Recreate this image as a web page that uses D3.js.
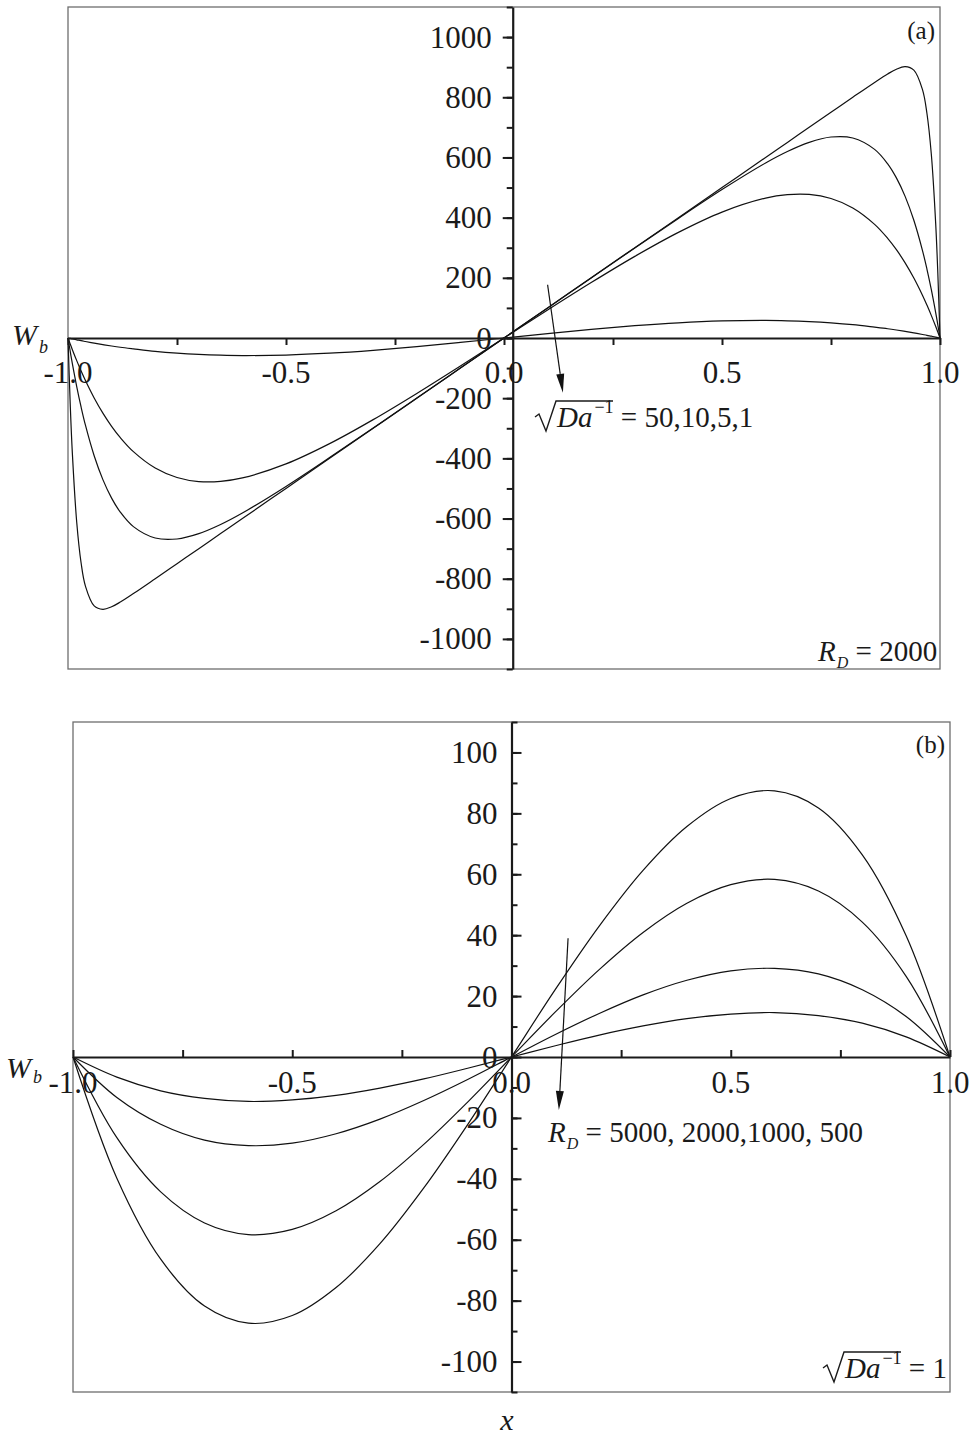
<!DOCTYPE html>
<html>
<head>
<meta charset="utf-8">
<script src="https://cdn.jsdelivr.net/npm/d3@7/dist/d3.min.js"></script>
<style>
  body { margin: 0; background: #fff; }
  svg { display: block; }
  text { font-family: "Liberation Serif", "Times New Roman", serif; fill: #1a1a1a; }
</style>
</head>
<body>
<svg id="chart" width="972" height="1435"></svg>
<script>
// ---------- data ----------
// Panel (a): W_b(x) for R_D = 2000, sqrt(Da^-1) = 50, 10, 5, 1
const xA = [-1, -0.995, -0.99, -0.98, -0.97, -0.96, -0.94, -0.92, -0.9, -0.88, -0.85, -0.8, -0.75, -0.7, -0.65, -0.6,
            -0.5, -0.4, -0.3, -0.2, -0.1, 0, 0.1, 0.2, 0.3, 0.4, 0.5,
            0.6, 0.65, 0.7, 0.75, 0.8, 0.85, 0.88, 0.9, 0.92, 0.94, 0.96, 0.97, 0.98, 0.99, 0.995, 1];
const wDa50 = [0, -216.2, -383.5, -612.1, -746.9, -824.7, -890.2, -901.7, -893.3, -877.5, -849.4, -800, -750, -700, -650, -600,
               -500, -400, -300, -200, -100, 0, 100, 200, 300, 400, 500,
               600, 650, 700, 750, 800, 849.4, 877.5, 893.3, 901.7, 890.2, 824.7, 746.9, 612.1, 383.5, 216.2, 0];
const wDa10 = [0, -43.8, -85.2, -161.3, -229.2, -289.7, -391.2, -470.7, -532.1, -578.8, -626.9, -664.7, -667.9, -650.2, -619.8, -581.7,
               -493.3, -397.5, -299.1, -199.7, -99.9, 0, 99.9, 199.7, 299.1, 397.5, 493.3,
               581.7, 619.8, 650.2, 667.9, 664.7, 626.9, 578.8, 532.1, 470.7, 391.2, 289.7, 229.2, 161.3, 85.2, 43.8, 0];
const wDa5 = [0, -19.7, -38.8, -75.2, -109.3, -141.3, -199.2, -249.7, -293.5, -331.2, -377.7, -432.2, -463.6, -477.1, -476.5, -465.0,
              -418.5, -351.1, -271.3, -184.2, -93.0, 0, 93.0, 184.2, 271.3, 351.1, 418.5,
              465.0, 476.5, 477.1, 463.6, 432.2, 377.7, 331.2, 293.5, 249.7, 199.2, 141.3, 109.3, 75.2, 38.8, 19.7, 0];
const wDa1 = [0, -1.5, -3.1, -6.0, -9.0, -11.7, -17.0, -21.9, -26.5, -30.7, -36.0, -44.3, -50.3, -54.5, -57.1, -58.3,
              -56.6, -50.5, -40.9, -28.7, -14.8, 0, 14.8, 28.7, 40.9, 50.5, 56.6,
              58.3, 57.1, 54.5, 50.3, 44.3, 36.0, 30.7, 26.5, 21.9, 17.0, 11.7, 9.0, 6.0, 3.1, 1.5, 0];

// Panel (b): W_b(x) for sqrt(Da^-1) = 1, R_D = 5000, 2000, 1000, 500
const xB = [-1, -0.9, -0.8, -0.7, -0.6, -0.5, -0.4, -0.3, -0.2, -0.1, 0, 0.1, 0.2, 0.3, 0.4, 0.5, 0.6, 0.7, 0.8, 0.9, 1];
const wRD5000 = [0, -39.8, -66.4, -81.8, -87.4, -84.9, -75.7, -61.3, -43.0, -22.2, 0, 22.2, 43.0, 61.3, 75.7, 84.9, 87.4, 81.8, 66.4, 39.8, 0];
const wRD2000 = [0, -26.5, -44.3, -54.5, -58.3, -56.6, -50.5, -40.9, -28.7, -14.8, 0, 14.8, 28.7, 40.9, 50.5, 56.6, 58.3, 54.5, 44.3, 26.5, 0];
const wRD1000 = [0, -13.3, -22.1, -27.3, -29.1, -28.3, -25.2, -20.4, -14.3, -7.4, 0, 7.4, 14.3, 20.4, 25.2, 28.3, 29.1, 27.3, 22.1, 13.3, 0];
const wRD500 = [0, -6.6, -11.1, -13.6, -14.6, -14.1, -12.6, -10.2, -7.2, -3.7, 0, 3.7, 7.2, 10.2, 12.6, 14.1, 14.6, 13.6, 11.1, 6.6, 0];

// tick values and labels
const xTickValues = [-1, -0.5, 0, 0.5, 1];
const xTickLabels = ["-1.0", "-0.5", "0.0", "0.5", "1.0"];
const xMinorTicks = [-1, -0.75, -0.5, -0.25, 0, 0.25, 0.5, 0.75, 1];
const yTicksA = [-1000, -800, -600, -400, -200, 0, 200, 400, 600, 800, 1000];
const yTickLabelsA = ["-1000", "-800", "-600", "-400", "-200", "0", "200", "400", "600", "800", "1000"];
const yMinorA = d3.range(-1100, 1101, 100);
const yTicksB = [-100, -80, -60, -40, -20, 0, 20, 40, 60, 80, 100];
const yTickLabelsB = ["-100", "-80", "-60", "-40", "-20", "0", "20", "40", "60", "80", "100"];
const yMinorB = d3.range(-110, 111, 10);

// ---------- drawing ----------
const svg = d3.select("#chart");
const INK = "#1a1a1a";

function drawPanel(cfg) {
  const g = svg.append("g");
  const x = d3.scaleLinear().domain([-1, 1]).range([cfg.left, cfg.right]);
  const y = d3.scaleLinear().domain([-cfg.ymax, cfg.ymax]).range([cfg.bottom, cfg.top]);

  // frame
  g.append("rect")
    .attr("x", cfg.left).attr("y", cfg.top)
    .attr("width", cfg.right - cfg.left).attr("height", cfg.bottom - cfg.top)
    .attr("fill", "none").attr("stroke", "#6e6e6e").attr("stroke-width", 1.3);

  // curves
  const line = d3.line()
    .x((d, i) => x(cfg.xs[i]))
    .y(d => y(d))
    .curve(d3.curveCatmullRom.alpha(0.5));
  cfg.series.forEach(s => {
    g.append("path").attr("d", line(s))
      .attr("fill", "none").attr("stroke", "#111").attr("stroke-width", 1.2);
  });

  // horizontal axis through W_b = 0
  const xAxis = (cfg.xTicksDown ? d3.axisBottom(x) : d3.axisTop(x))
    .tickValues(xMinorTicks).tickFormat("").tickSize(7).tickSizeOuter(0);
  const gx = g.append("g").attr("transform", `translate(0,${y(0)})`).call(xAxis);
  gx.select(".domain").attr("stroke", INK).attr("stroke-width", 2.2);
  gx.selectAll(".tick line").attr("stroke", INK).attr("stroke-width", 2);

  xTickValues.forEach((v, i) => {
    g.append("text").attr("x", x(v)).attr("y", y(0) + cfg.xLabelDy)
      .attr("text-anchor", "middle").style("font-size", "31px").text(xTickLabels[i]);
  });

  // vertical axis
  const axPos = x(cfg.yAxisAt);
  const mkAxis = cfg.yTicksLeft ? d3.axisLeft : d3.axisRight;
  const gyMinor = g.append("g").attr("transform", `translate(${axPos},0)`)
    .call(mkAxis(y).tickValues(cfg.yMinor).tickFormat("").tickSize(6).tickSizeOuter(0));
  gyMinor.select(".domain").attr("stroke", INK).attr("stroke-width", 2.2);
  gyMinor.selectAll(".tick line").attr("stroke", INK).attr("stroke-width", 2);
  const gyMajor = g.append("g").attr("transform", `translate(${axPos},0)`)
    .call(mkAxis(y).tickValues(cfg.yTicks).tickFormat("").tickSize(10).tickSizeOuter(0));
  gyMajor.select(".domain").remove();
  gyMajor.selectAll(".tick line").attr("stroke", INK).attr("stroke-width", 2);

  cfg.yTicks.forEach((v, i) => {
    g.append("text").attr("x", axPos - cfg.yLabelGap).attr("y", y(v) + 10.5)
      .attr("text-anchor", "end").style("font-size", "31px").text(cfg.yLabels[i]);
  });

  // W_b axis title
  g.append("text").attr("x", cfg.wX).attr("y", cfg.wY)
    .style("font-size", "30px").style("font-style", "italic").text("W");
  g.append("text").attr("x", cfg.wX + 27).attr("y", cfg.wY + cfg.bDy)
    .style("font-size", "18px").style("font-style", "italic").text("b");

  // panel tag
  g.append("text").attr("x", cfg.right - 5).attr("y", cfg.tagY)
    .attr("text-anchor", "end").style("font-size", "25px").text(cfg.tag);

  // arrow across the family of curves
  const [ax0, ay0] = [x(cfg.arrow[0][0]), y(cfg.arrow[0][1])];
  const [ax1, ay1] = [x(cfg.arrow[1][0]), y(cfg.arrow[1][1])];
  const ang = Math.atan2(ay1 - ay0, ax1 - ax0);
  const hl = 19, hw = 4;
  const bx = ax1 - hl * Math.cos(ang), by = ay1 - hl * Math.sin(ang);
  g.append("line").attr("x1", ax0).attr("y1", ay0).attr("x2", bx).attr("y2", by)
    .attr("stroke", "#111").attr("stroke-width", 1.2);
  g.append("path")
    .attr("d", `M${ax1},${ay1}L${bx + hw * Math.sin(ang)},${by - hw * Math.cos(ang)}L${bx - hw * Math.sin(ang)},${by + hw * Math.cos(ang)}Z`)
    .attr("fill", "#111");

  return g;
}

// sqrt(Da^-1) = value
function sqrtLabel(g, x0, b, value) {
  const pts = [[0, -10], [4, -13], [11, 4], [21, -26], [78, -26]];
  g.append("path").attr("d", d3.line()(pts.map(p => [x0 + p[0], b + p[1]])))
    .attr("fill", "none").attr("stroke", INK).attr("stroke-width", 1.4);
  const t = g.append("text").attr("x", x0 + 22).attr("y", b).style("font-size", "29px");
  t.append("tspan").style("font-style", "italic").text("Da");
  t.append("tspan").attr("dx", 2).attr("dy", -14).style("font-size", "18px").text("\u22121");
  t.append("tspan").attr("dy", 14).text(" = " + value);
}

// R_D = value
function rdLabel(g, x0, b, value) {
  const t = g.append("text").attr("x", x0).attr("y", b).style("font-size", "29px");
  t.append("tspan").style("font-style", "italic").text("R");
  t.append("tspan").attr("dx", 1).attr("dy", 7).style("font-size", "16px").style("font-style", "italic").text("D");
  t.append("tspan").attr("dy", -7).text(" = " + value);
}

const gA = drawPanel({
  left: 68, right: 940, top: 7, bottom: 669, ymax: 1100,
  xs: xA, series: [wDa50, wDa10, wDa5, wDa1],
  xTicksDown: true, xLabelDy: 45,
  yAxisAt: 0.02, yTicksLeft: true, yTicks: yTicksA, yLabels: yTickLabelsA, yMinor: yMinorA, yLabelGap: 21,
  wX: 12, wY: 345, bDy: 8,
  tag: "(a)", tagY: 39,
  arrow: [[0.10, 177], [0.135, -182]]
});
sqrtLabel(gA, 535, 427, "50,10,5,1");
rdLabel(gA, 818, 661, "2000");

const gB = drawPanel({
  left: 73, right: 950, top: 722, bottom: 1392, ymax: 110,
  xs: xB, series: [wRD5000, wRD2000, wRD1000, wRD500],
  xTicksDown: false, xLabelDy: 36,
  yAxisAt: 0, yTicksLeft: false, yTicks: yTicksB, yLabels: yTickLabelsB, yMinor: yMinorB, yLabelGap: 14,
  wX: 6, wY: 1078, bDy: 5,
  tag: "(b)", tagY: 753,
  arrow: [[0.129, 39], [0.108, -17.4]]
});
rdLabel(gB, 548, 1142, "5000, 2000,1000, 500");
sqrtLabel(gB, 823, 1378, "1");

// x axis title
svg.append("text").attr("x", 507).attr("y", 1430).attr("text-anchor", "middle")
  .style("font-size", "30px").style("font-style", "italic").text("x");
</script>
</body>
</html>
